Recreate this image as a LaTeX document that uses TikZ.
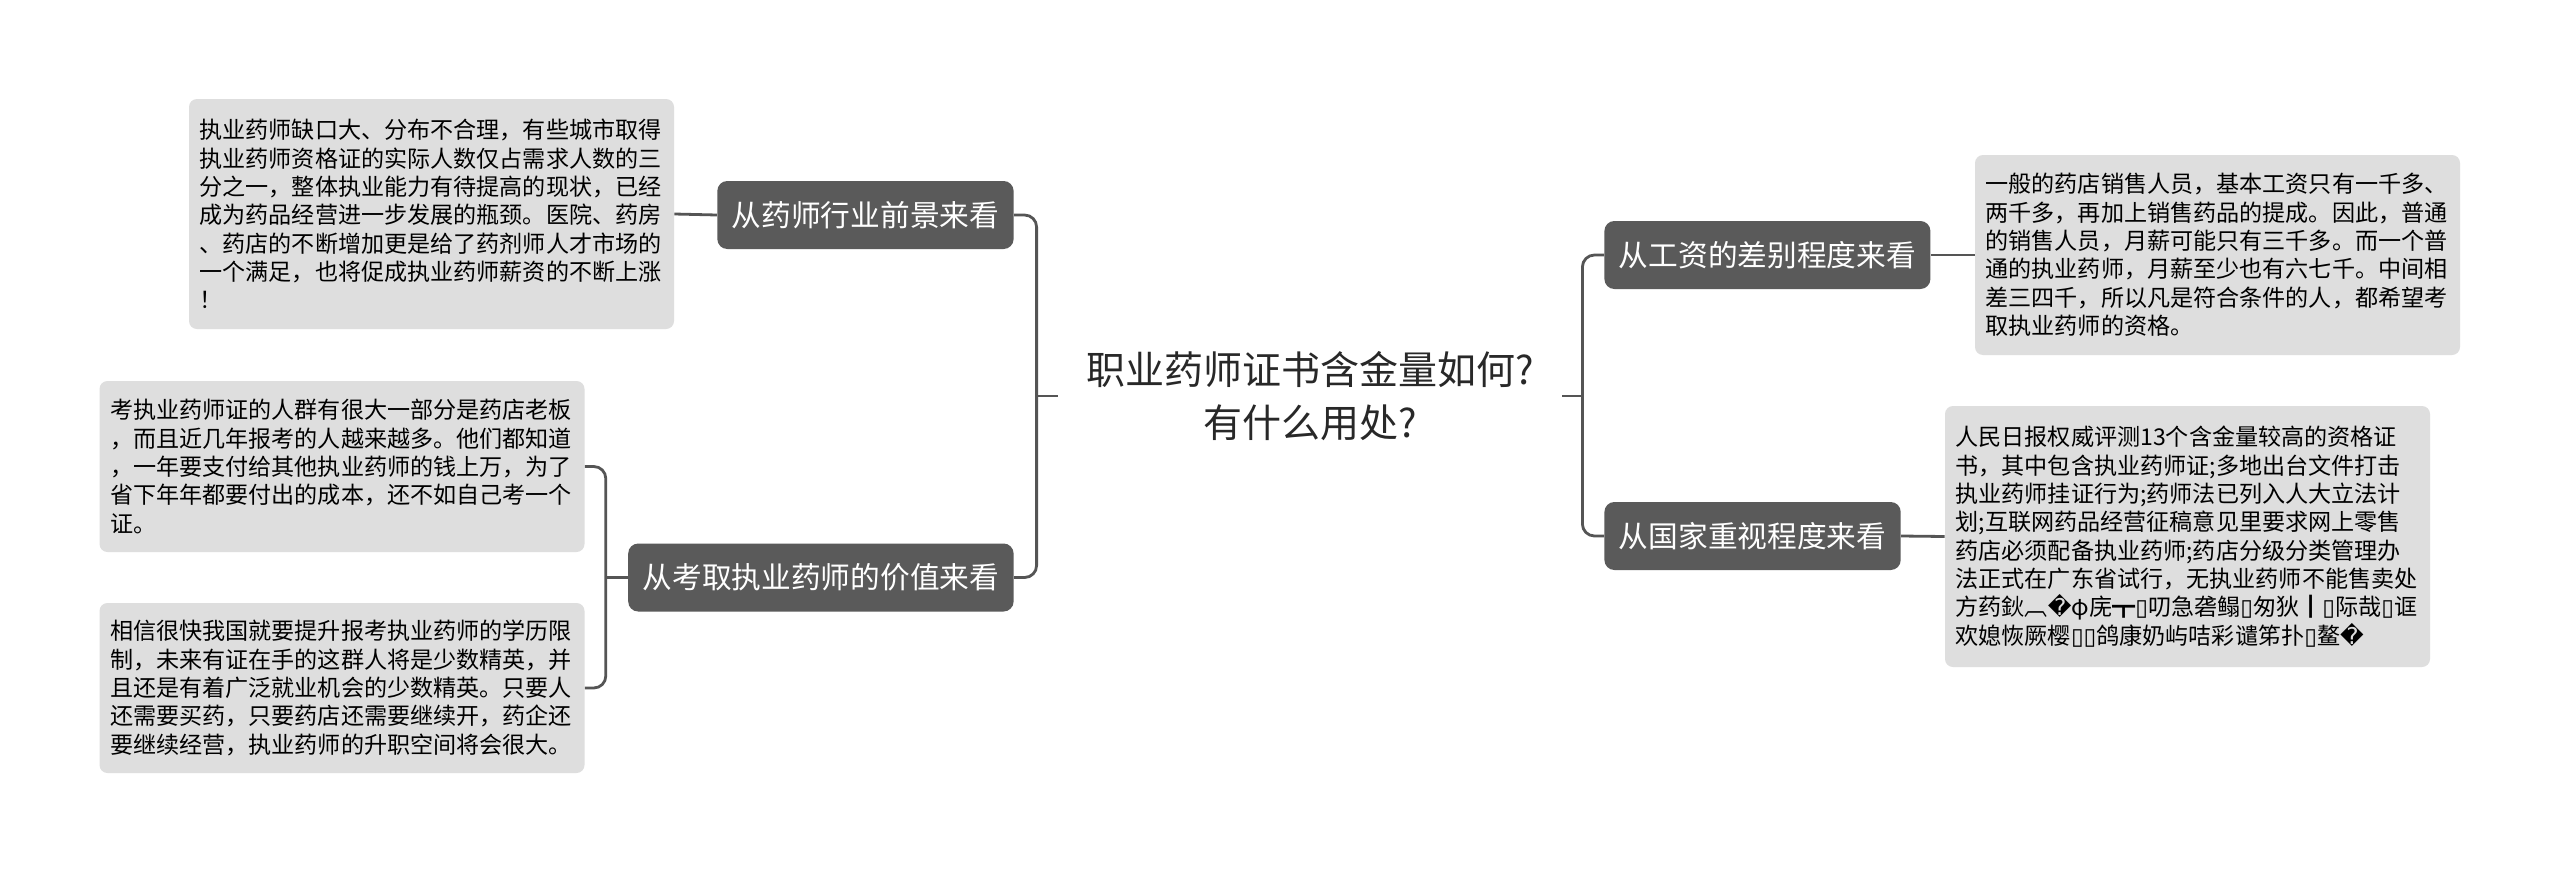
\documentclass[tikz,border=0pt]{standalone}
\usepackage{fontspec}
\usepackage{xcolor}
\usepackage{tikz}
\usetikzlibrary{calc}
\setmainfont{Noto Sans CJK SC}
\newfontfamily\repfont{DejaVu Sans}
\newcommand{\tofu}{{\repfont ▯}}
\newcommand{\badchar}{{\repfont �}}
\definecolor{mapdark}{RGB}{90,90,90}
\definecolor{mapline}{RGB}{85,85,85}
\definecolor{mapnote}{RGB}{222,222,222}
\definecolor{maptext}{RGB}{40,40,40}

\begin{document}
\begin{tikzpicture}[x=0.5pt,y=-0.5pt,
  topic/.style={fill=mapdark,text=white,rounded corners=5pt,inner xsep=7.25pt,inner ysep=0pt,
    minimum height=34pt,font=\fontsize{14.85pt}{18pt}\selectfont},
  note/.style={fill=mapnote,text=black,rounded corners=4pt,align=left,text width=232pt,
    inner xsep=5.25pt,inner ysep=0pt,font=\fontsize{11.55pt}{14.17pt}\selectfont},
  link/.style={draw=mapline,line width=1.4pt,rounded corners=6pt}]
  \fill[white] (0,0) rectangle (2560,873);
  \useasboundingbox (0,0) rectangle (2560,873);

  % centre
  \node[align=center,text=maptext,minimum width=252pt,inner sep=0pt,
    font=\fontsize{19.5pt}{26.5pt}\selectfont] (root) at (1310,396)
    {职业药师证书含金量如何?\\有什么用处?};

  % topics
  \node[topic,anchor=east] (prospect) at (1014,215) {从药师行业前景来看};
  \node[topic,anchor=east] (value) at (1014,577.5) {从考取执业药师的价值来看};
  \node[topic,anchor=west] (salary) at (1604,255) {从工资的差别程度来看};
  \node[topic,anchor=west] (policy) at (1604,536) {从国家重视程度来看};

  % notes
  \node[note,minimum height=115pt] (prospectnote) at (431.5,214) {执业药师缺口大、分布不合理，有些城市取得\\执业药师资格证的实际人数仅占需求人数的三\\分之一，整体执业能力有待提高的现状，已经\\成为药品经营进一步发展的瓶颈。医院、药房\\、药店的不断增加更是给了药剂师人才市场的\\一个满足，也将促成执业药师薪资的不断上涨\\！};
  \node[note,minimum height=85.5pt] (valuenotea) at (342,466.5) {考执业药师证的人群有很大一部分是药店老板\\，而且近几年报考的人越来越多。他们都知道\\，一年要支付给其他执业药师的钱上万，为了\\省下年年都要付出的成本，还不如自己考一个\\证。};
  \node[note,minimum height=85pt] (valuenoteb) at (342,688) {相信很快我国就要提升报考执业药师的学历限\\制，未来有证在手的这群人将是少数精英，并\\且还是有着广泛就业机会的少数精英。只要人\\还需要买药，只要药店还需要继续开，药企还\\要继续经营，执业药师的升职空间将会很大。};
  \node[note,minimum height=100pt] (salarynote) at (2217.5,255) {一般的药店销售人员，基本工资只有一千多、\\两千多，再加上销售药品的提成。因此，普通\\的销售人员，月薪可能只有三千多。而一个普\\通的执业药师，月薪至少也有六七千。中间相\\差三四千，所以凡是符合条件的人，都希望考\\取执业药师的资格。};
  \node[note,minimum height=130.5pt] (policynote) at (2187.5,536.5) {人民日报权威评测13个含金量较高的资格证\\书，其中包含执业药师证;多地出台文件打击\\执业药师挂证行为;药师法已列入人大立法计\\划;互联网药品经营征稿意见里要求网上零售\\药店必须配备执业药师;药店分级分类管理办\\法正式在广东省试行，无执业药师不能售卖处\\方药鈥︹\badchar φ庑┳\tofu 叨急砻鳎\tofu 匆狄┃\tofu 际哉\tofu 诓\\欢媳恢厥樱\tofu\tofu 鸽康奶屿咭彩谴笫扑\tofu 鳌\badchar};

  % connectors
  \coordinate (lhub) at ($(root.west)+(-21,0)$);
  \coordinate (rhub) at ($(root.east)+(20,0)$);
  \coordinate (vhub) at ($(value.west)+(-22,0)$);
  \draw[link] (root.west) -- (lhub);
  \draw[link] (prospect.east) -| (lhub) |- (value.east);
  \draw[link] (root.east) -- (rhub);
  \draw[link] (salary.west) -| (rhub) |- (policy.west);
  \draw[link] (value.west) -- (vhub);
  \draw[link] (valuenotea.east) -| (vhub) |- (valuenoteb.east);
  \foreach \a/\b in {prospect.west/prospectnote.east,salary.east/salarynote.west,policy.east/policynote.west}
    \draw[link] (\a) -- (\b);
\end{tikzpicture}
\end{document}
